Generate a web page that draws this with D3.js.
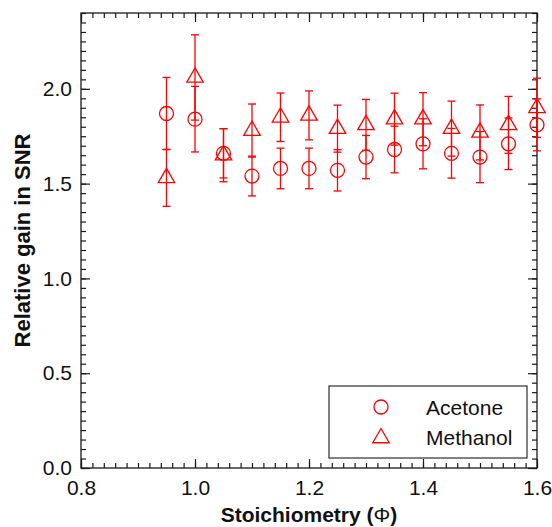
<!DOCTYPE html>
<html><head><meta charset="utf-8">
<script src="https://cdn.jsdelivr.net/npm/d3@7"></script>
<style>
body{margin:0;background:#fff}
svg{display:block}
text{font-family:"Liberation Sans",Arial,Helvetica,sans-serif;fill:#111}
</style>
</head><body>
<svg id="c" width="552" height="527"></svg>
<script>
// ---- data ----
const stoich      = [0.95, 1.00, 1.05, 1.10, 1.15, 1.20, 1.25, 1.30, 1.35, 1.40, 1.45, 1.50, 1.55, 1.60];
const acetone     = [1.87, 1.84, 1.66, 1.54, 1.58, 1.58, 1.57, 1.64, 1.68, 1.71, 1.66, 1.64, 1.71, 1.81];
const acetoneErr  = [0.19, 0.173,0.13, 0.105,0.107,0.107,0.109,0.114,0.123,0.132,0.131,0.135,0.136,0.137];
const methanol    = [1.53, 2.06, 1.65, 1.78, 1.85, 1.86, 1.79, 1.81, 1.84, 1.84, 1.79, 1.77, 1.81, 1.90];
const methanolErr = [0.15, 0.225,0.14, 0.14, 0.128,0.129,0.124,0.134,0.137,0.14, 0.145,0.145,0.15, 0.156];
const seriesNames = ["Acetone", "Methanol"];
const xMajorTicks = [0.8, 1.0, 1.2, 1.4, 1.6];
const yMajorTicks = [0.0, 0.5, 1.0, 1.5, 2.0];
const xTitle = "Stoichiometry (";
const xTitleSym = "\u03A6";
const yTitle = "Relative gain in SNR";

// ---- layout ----
const L = 81, R = 537, T = 13, B = 468;
const red = "#ff0000", ink = "#1a1a1a";
const svg = d3.select("#c");
const x = d3.scaleLinear().domain([0.8, 1.6]).range([L, R]);
const y = d3.scaleLinear().domain([0, 2.4]).range([B, T]);

const xMinor = d3.range(40, 81).map(i => i / 50);
const yMinor = d3.range(0, 49).map(i => i / 20);
const fmt = d3.format(".1f");

function styleAxis(g) {
  g.select(".domain").remove();
  g.selectAll(".tick line").attr("stroke", ink).attr("stroke-width", 1.2);
  g.selectAll(".tick text").attr("font-size", 21).attr("fill", "#111")
    .style("font-family", '"Liberation Sans",Arial,sans-serif');
}

// minor ticks
svg.append("g").attr("transform", `translate(0,${B})`)
  .call(d3.axisBottom(x).tickValues(xMinor).tickSize(-5).tickFormat("")).call(styleAxis);
svg.append("g").attr("transform", `translate(0,${T})`)
  .call(d3.axisTop(x).tickValues(xMinor).tickSize(-5).tickFormat("")).call(styleAxis);
svg.append("g").attr("transform", `translate(${L},0)`)
  .call(d3.axisLeft(y).tickValues(yMinor).tickSize(-5).tickFormat("")).call(styleAxis);
svg.append("g").attr("transform", `translate(${R},0)`)
  .call(d3.axisRight(y).tickValues(yMinor).tickSize(-5).tickFormat("")).call(styleAxis);

// major ticks
svg.append("g").attr("transform", `translate(0,${B})`)
  .call(d3.axisBottom(x).tickValues(xMajorTicks).tickSize(-9).tickPadding(12).tickFormat(fmt)).call(styleAxis);
svg.append("g").attr("transform", `translate(0,${T})`)
  .call(d3.axisTop(x).tickValues(xMajorTicks).tickSize(-9).tickFormat("")).call(styleAxis);
svg.append("g").attr("transform", `translate(${L},0)`)
  .call(d3.axisLeft(y).tickValues(yMajorTicks).tickSize(-9).tickPadding(9).tickFormat(fmt)).call(styleAxis);
svg.append("g").attr("transform", `translate(${R},0)`)
  .call(d3.axisRight(y).tickValues(yMajorTicks).tickSize(-9).tickFormat("")).call(styleAxis);

// frame
svg.append("rect").attr("x", L).attr("y", T).attr("width", R - L).attr("height", B - T)
  .attr("fill", "none").attr("stroke", ink).attr("stroke-width", 1.3);

// titles
const xt = svg.append("text").attr("x", (L + R) / 2).attr("y", 522)
  .attr("text-anchor", "middle").attr("font-size", 21).attr("font-weight", "bold");
xt.append("tspan").text(xTitle);
xt.append("tspan").attr("font-weight", "normal").text(xTitleSym);
xt.append("tspan").text(")");

svg.append("text").attr("transform", `translate(30,${(T + B) / 2}) rotate(-90)`)
  .attr("text-anchor", "middle").attr("font-size", 22).attr("font-weight", "bold").text(yTitle);

// symbols
const tri = (s) => { const h = s * Math.sqrt(3) / 2; return `M0,${-2*h/3}L${s/2},${h/3}L${-s/2},${h/3}Z`; };
const triPath = tri(16.5);
const capW = 4;

function drawSeries(vals, errs, kind) {
  const g = svg.append("g").attr("stroke", red).attr("fill", "none").attr("stroke-width", 1.3);
  const pts = stoich.map((s, i) => ({ s, v: vals[i], e: errs[i] }));
  const eb = g.selectAll("g.eb").data(pts).join("g");
  eb.append("line").attr("x1", d => x(d.s)).attr("x2", d => x(d.s))
    .attr("y1", d => y(d.v - d.e)).attr("y2", d => y(d.v + d.e));
  eb.append("line").attr("x1", d => x(d.s) - capW).attr("x2", d => x(d.s) + capW)
    .attr("y1", d => y(d.v + d.e)).attr("y2", d => y(d.v + d.e));
  eb.append("line").attr("x1", d => x(d.s) - capW).attr("x2", d => x(d.s) + capW)
    .attr("y1", d => y(d.v - d.e)).attr("y2", d => y(d.v - d.e));
  if (kind === "circle") {
    g.selectAll("circle").data(pts).join("circle")
      .attr("cx", d => x(d.s)).attr("cy", d => y(d.v)).attr("r", 7);
  } else {
    g.selectAll("path").data(pts).join("path")
      .attr("transform", d => `translate(${x(d.s)},${y(d.v)})`).attr("d", triPath);
  }
}
drawSeries(acetone, acetoneErr, "circle");
drawSeries(methanol, methanolErr, "triangle");

// legend
const lg = svg.append("g");
lg.append("rect").attr("x", 329).attr("y", 386).attr("width", 198).attr("height", 72)
  .attr("fill", "#fff").attr("stroke", ink).attr("stroke-width", 1.1);
lg.append("circle").attr("cx", 381).attr("cy", 407).attr("r", 7)
  .attr("fill", "none").attr("stroke", red).attr("stroke-width", 1.3);
lg.append("path").attr("transform", "translate(381,438)").attr("d", triPath)
  .attr("fill", "none").attr("stroke", red).attr("stroke-width", 1.3);
lg.selectAll("text").data(seriesNames).join("text")
  .attr("x", 426).attr("y", (d, i) => 415 + i * 30).attr("font-size", 21).text(d => d);
</script>
</body></html>
